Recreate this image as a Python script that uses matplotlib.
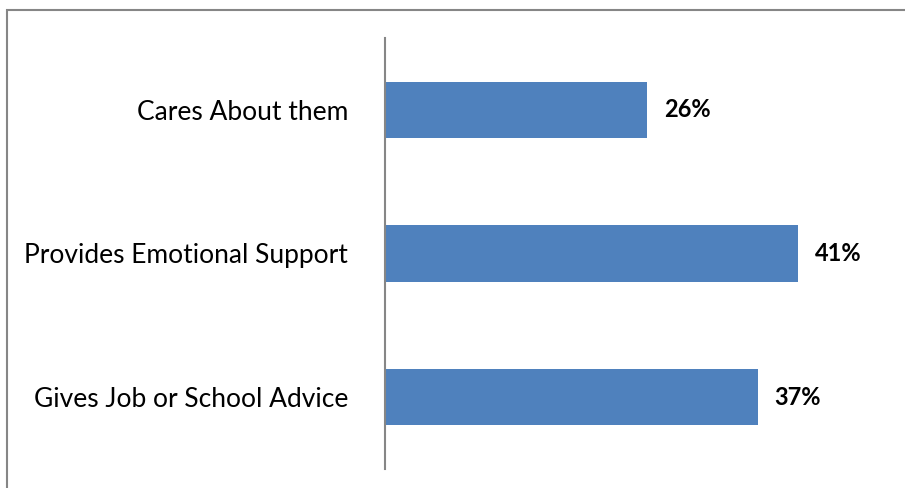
import matplotlib
matplotlib.use("Agg")
import matplotlib.pyplot as plt
from matplotlib.patches import Rectangle

categories = ["Cares About them", "Provides Emotional Support", "Gives Job or School Advice"]
values = [26, 41, 37]

W, H = 905, 488
fig = plt.figure(figsize=(W / 100, H / 100), dpi=100)
plt.rcParams['font.family'] = ['Lato', 'DejaVu Sans']

# plot area in pixels: left edge of axis at x=385, y from 38 to 469
ax = fig.add_axes([385 / W, 19 / H, 453.6 / W, 431 / H])
ypos = list(range(len(categories)))
ax.barh(ypos, values, height=0.39, color="#4f81bd")
ax.set_xlim(0, 45)
ax.set_ylim(len(categories) - 0.5, -0.5)

ax.set_yticks(ypos)
ax.set_yticklabels(categories, fontsize=19)
ax.tick_params(axis="y", length=0, pad=26.5)
ax.set_xticks([])
for s in ["top", "right", "bottom"]:
    ax.spines[s].set_visible(False)
ax.spines["left"].set_color("#868686")
ax.spines["left"].set_linewidth(1.5)

for y, v in zip(ypos, values):
    ax.annotate(f"{v}%", (v, y), xytext=(12, 0), textcoords="offset points",
                va="center", ha="left", fontsize=17, fontweight="bold")

# chart frame (only top and left edges fall inside the image)
fig.patches.append(Rectangle((7 / W, -0.1), 1.2, (H - 9.5) / H + 0.1,
                             transform=fig.transFigure, fill=False,
                             edgecolor="#868686", linewidth=1.5))

fig.savefig("out.png", dpi=100)
